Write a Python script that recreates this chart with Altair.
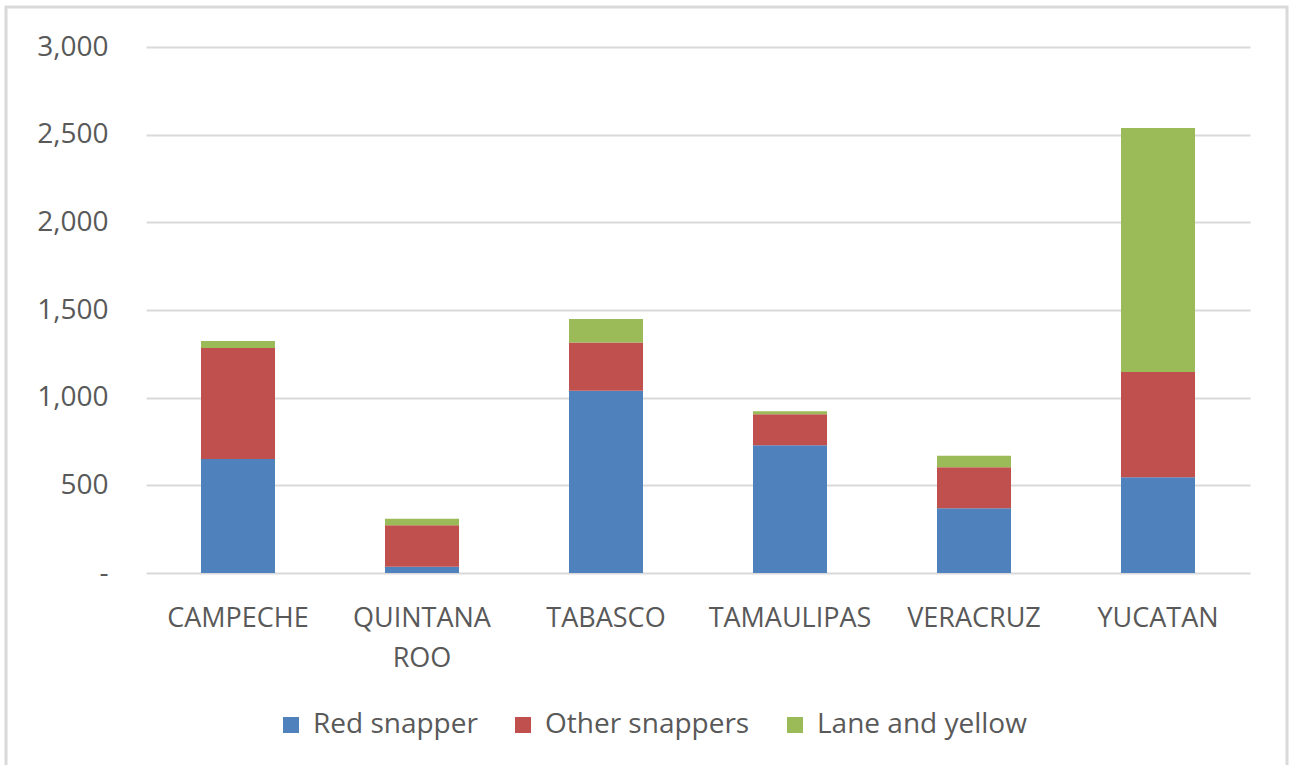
import altair as alt
import pandas as pd

states = ["CAMPECHE", "QUINTANA ROO", "TABASCO", "TAMAULIPAS", "VERACRUZ", "YUCATAN"]
series = ["Red snapper", "Other snappers", "Lane and yellow"]
red_snapper = [650, 36, 1040, 728, 369, 546]
other_snappers = [633, 236, 274, 177, 234, 601]
lane_yellow = [40, 38, 135, 17, 66, 1391]
colors = ["#4F81BD", "#C0504D", "#9BBB59"]

rows = []
for i, s in enumerate(states):
    for k, (name, vals) in enumerate(zip(series, [red_snapper, other_snappers, lane_yellow])):
        rows.append({"state": s, "series": name, "value": vals[i], "order": k})
df = pd.DataFrame(rows)

FONT = "Open Sans"
W, H = 1104, 526

bars = alt.Chart(df).mark_bar(size=74).encode(
    x=alt.X("state:N", sort=states, title=None,
            scale=alt.Scale(paddingInner=0.6, paddingOuter=0.3),
            axis=alt.Axis(labelAngle=0, labelFontSize=27, labelColor="#595959", labelFont=FONT,
                          ticks=False, domain=False, grid=False, labelPadding=32, labelLineHeight=40,
                          labelLimit=400,
                          labelExpr="split(datum.label, ' ')")),
    y=alt.Y("value:Q", title=None, stack="zero",
            scale=alt.Scale(domain=[0, 3000], nice=False),
            axis=alt.Axis(values=[0, 500, 1000, 1500, 2000, 2500, 3000],
                          labelExpr="datum.value == 0 ? '-' : format(datum.value, ',')",
                          labelFontSize=28, labelColor="#595959", labelFont=FONT,
                          ticks=False, domain=False, labelPadding=38,
                          gridColor="#d9d9d9", gridWidth=2)),
    color=alt.Color("series:N", sort=series,
                    scale=alt.Scale(domain=series, range=colors),
                    legend=alt.Legend(title=None, orient="none", direction="horizontal",
                                      legendX=131, legendY=664, symbolType="square",
                                      symbolSize=256, symbolStrokeWidth=0,
                                      labelFontSize=28, labelColor="#595959", labelFont=FONT,
                                      labelLimit=400,
                                      columnPadding=31, labelOffset=8)),
    order=alt.Order("order:Q", sort="ascending"),
)

frame = alt.Chart(pd.DataFrame({"a": [0]})).mark_rect(
    fill=None, stroke="#d9d9d9", strokeWidth=3
).encode(
    x=alt.value(-140), x2=alt.value(W + 37),
    y=alt.value(-40), y2=alt.value(H + 200),
)

chart = alt.layer(frame, bars).properties(
    width=W, height=H,
    background="white",
    autosize=alt.AutoSizeParams(type="none"),
    padding={"left": 146, "top": 47, "right": 39, "bottom": 192},
).configure_view(stroke=None, strokeWidth=0)

chart.save("out.html", embed_options={"renderer": "svg", "actions": False})
